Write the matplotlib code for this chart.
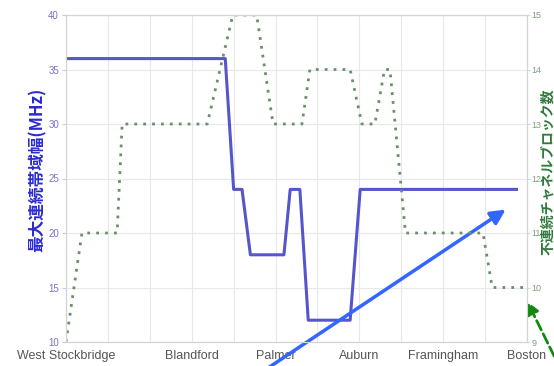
import numpy as np
import matplotlib
matplotlib.use('Agg')
import matplotlib.pyplot as plt

# ciudades y posiciones en el eje x
towns = ['West Stockbridge', 'Blandford', 'Palmer', 'Auburn', 'Framingham', 'Boston']
town_pos = [0, 3, 5, 7, 9, 11]

# maximo ancho de banda continuo (MHz), eje izquierdo
bw_x = [0, 3.8, 4.0, 4.2, 4.4, 5.2, 5.35, 5.58, 5.78, 6.78, 7.02, 10.75]
bw_y = [36, 36, 24, 24, 18, 18, 24, 24, 12, 12, 24, 24]

# numero de bloques de canal discontinuos, eje derecho
blk_x = [0, 0.38, 1.22, 1.34, 3.37, 3.98, 4.55, 4.94, 5.63, 5.82, 6.78, 7.06,
         7.37, 7.6, 7.73, 8.1, 9.95, 10.17, 11]
blk_y = [9, 11, 11, 13, 13, 15, 15, 13, 13, 14, 14, 13, 13, 14, 14, 11, 11, 10, 10]

left_ticks = [10, 15, 20, 25, 30, 35, 40]
right_ticks = [9, 10, 11, 12, 13, 14, 15]

jp = ['Noto Sans CJK JP', 'DejaVu Sans']
lat = ['Liberation Sans', 'DejaVu Sans']

fig = plt.figure(figsize=(5.54, 3.66), dpi=100)
ax = fig.add_axes([66/554, 24/366, (527-66)/554, (342-15)/366])
ax2 = ax.twinx()

ax.plot(bw_x, bw_y, color='#5656cc', lw=2.2, zorder=3)
ax2.plot(blk_x, blk_y, color='#6a8f6a', lw=2.0, ls=(0, (1, 2.2)), zorder=2)

ax.set_xlim(0, 11)
ax.set_ylim(10, 40)
ax2.set_ylim(9, 15)

ax.set_xticks(range(12))
labels = ['' for i in range(12)]
for t, p in zip(towns, town_pos):
    labels[p] = t
ax.set_xticklabels(labels, fontsize=9, color='#555555', family=lat)
ax.set_yticks(left_ticks)
ax.set_yticklabels([str(v) for v in left_ticks], fontsize=7, color='#7474c4', family=lat)
ax2.set_yticks(right_ticks)
ax2.set_yticklabels([str(v) for v in right_ticks], fontsize=6.5, color='#7f9f7f', family=lat)

ax.tick_params(axis='x', length=0, pad=6)
ax.tick_params(axis='y', length=3, color='#c8c8ee', pad=2)
ax2.tick_params(axis='y', length=2, color='#c8e0c8', pad=1)

ax.grid(True, color='#e8e8e8', lw=0.8)
ax.set_axisbelow(True)
for a in (ax, ax2):
    for s in a.spines.values():
        s.set_color('#d4d4d4')
        s.set_linewidth(0.8)

fig.text(38/554, 1 - 170/366, '最大連続帯域幅(MHz)', rotation=90, ha='center', va='center',
         fontsize=12, fontweight='bold', color='#2a2ad0', family=jp)
fig.text(548/554, 1 - 172/366, '不連続チャネルブロック数', rotation=90, ha='center', va='center',
         fontsize=10, fontweight='bold', color='#2f7a3a', family=jp)

# flechas
ax.annotate('', xy=(508, 366-208), xycoords='figure pixels',
            xytext=(262, -6), textcoords='figure pixels', annotation_clip=False,
            arrowprops=dict(arrowstyle='-|>', color='#3366ff', lw=2.5, mutation_scale=22))
ax.annotate('', xy=(526, 366-299), xycoords='figure pixels',
            xytext=(562, -6), textcoords='figure pixels', annotation_clip=False,
            arrowprops=dict(arrowstyle='-|>', color='#128a12', lw=2, ls='--', mutation_scale=18))

fig.savefig('out.png', dpi=100)
